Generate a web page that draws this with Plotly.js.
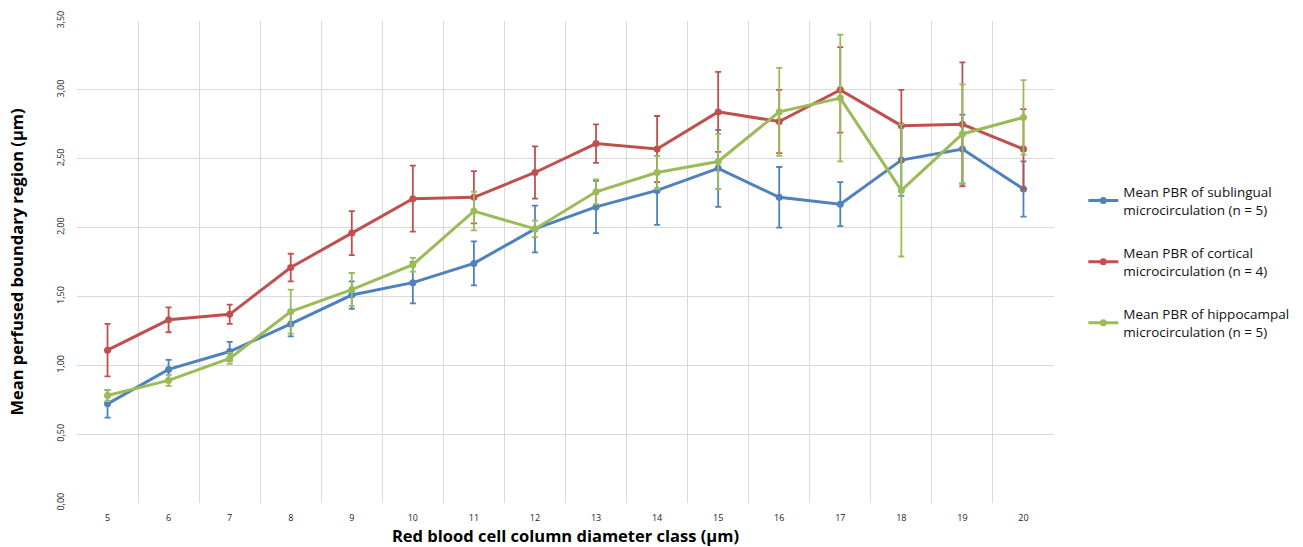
<!DOCTYPE html>
<html>
<head>
<meta charset="utf-8">
<script src="https://cdn.plot.ly/plotly-3.0.1.min.js"></script>
<style>html,body{margin:0;padding:0;background:#fff;}#chart{width:1303px;height:547px;}</style>
</head>
<body>
<div id="chart"></div>
<script>
const categories = [5,6,7,8,9,10,11,12,13,14,15,16,17,18,19,20];

const sublingualMean = [0.72,0.97,1.10,1.30,1.51,1.60,1.74,1.99,2.15,2.27,2.43,2.22,2.17,2.49,2.57,2.28];
const sublingualErr  = [0.10,0.07,0.07,0.09,0.10,0.15,0.16,0.17,0.19,0.25,0.28,0.22,0.16,0.26,0.25,0.20];

const corticalMean = [1.11,1.33,1.37,1.71,1.96,2.21,2.22,2.40,2.61,2.57,2.84,2.77,3.00,2.74,2.75,2.57];
const corticalErr  = [0.19,0.09,0.07,0.10,0.16,0.24,0.19,0.19,0.14,0.24,0.29,0.23,0.31,0.26,0.45,0.29];

const hippocampalMean = [0.78,0.89,1.05,1.39,1.55,1.73,2.12,1.99,2.26,2.40,2.48,2.84,2.94,2.27,2.68,2.80];
const hippocampalErr  = [0.04,0.04,0.04,0.16,0.12,0.05,0.14,0.06,0.09,0.12,0.20,0.32,0.46,0.48,0.36,0.27];

const seriesNames = [
  "Mean PBR of sublingual<br>microcirculation (n = 5)",
  "Mean PBR of cortical<br>microcirculation (n = 4)",
  "Mean PBR of hippocampal<br>microcirculation (n = 5)"
];
const seriesColors = ["#4F81BD","#C0504D","#9BBB59"];

const yTickVals = [0,0.5,1,1.5,2,2.5,3,3.5];
const yTickText = ["0,00","0,50","1,00","1,50","2,00","2,50","3,00","3,50"];

const means = [sublingualMean, corticalMean, hippocampalMean];
const errs = [sublingualErr, corticalErr, hippocampalErr];

const traces = means.map((m,i)=>({
  type:'scatter', mode:'lines+markers',
  x:categories, y:m, name:seriesNames[i], legendgroup:'g'+i,
  line:{color:seriesColors[i], width:3},
  marker:{color:seriesColors[i], size:7},
  error_y:{type:'data', array:errs[i], visible:true, color:seriesColors[i], thickness:1.8, width:3}
}));

const gridBounds = categories.map(c=>c-0.5).concat([categories[categories.length-1]+0.5]);

const layout = {
  width:1303, height:547,
  margin:{l:77, r:249, t:21, b:44, autoexpand:false},
  paper_bgcolor:'#fff', plot_bgcolor:'#fff',
  showlegend:true,
  font:{family:'"Open Sans", sans-serif', color:'#000'},
  xaxis:{
    range:[4.5,20.5], tickvals:categories, ticktext:categories.map(String),
    showgrid:false, zeroline:false, showline:false, ticks:'',
    tickfont:{size:9, color:'#222'}, ticklabelstandoff:8,
    minor:{tickvals:gridBounds, showgrid:true, gridcolor:'#d9d9d9', gridwidth:1, ticks:''},
    title:{text:'<b>Red blood cell column diameter class (µm)</b>', font:{size:16.5, color:'#000'}, standoff:12}
  },
  yaxis:{
    range:[0,3.5], tickvals:yTickVals, ticktext:yTickText, tickangle:-90,
    showgrid:true, gridcolor:'#d9d9d9', gridwidth:1, zeroline:false, showline:false, ticks:'',
    tickfont:{size:9, color:'#222'}, ticklabelstandoff:10,
    title:{text:'<b>Mean perfused boundary region (µm)</b>', font:{size:16.5, color:'#000'}, standoff:26}
  },
  legend:{
    x:1.03, y:0.5, xanchor:'left', yanchor:'middle',
    font:{size:13.5, color:'#111'}, tracegroupgap:23, itemwidth:30,
    bgcolor:'rgba(0,0,0,0)'
  }
};

Plotly.newPlot('chart', traces, layout, {displayModeBar:false, staticPlot:true});
</script>
</body>
</html>
